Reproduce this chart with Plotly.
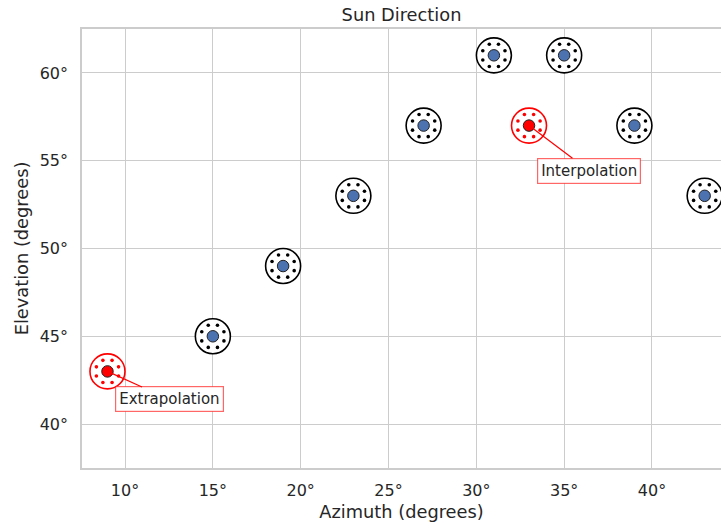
import numpy as np
import plotly.graph_objects as go

# data
azimuth = [9, 15, 19, 23, 27, 31, 33, 35, 39, 43]
elevation = [43, 45, 49, 53, 57, 61, 57, 61, 57, 53]
kind = ["extrapolation", "measured", "measured", "measured", "measured",
        "measured", "interpolation", "measured", "measured", "measured"]
x_ticks = [10, 15, 20, 25, 30, 35, 40]
y_ticks = [40, 45, 50, 55, 60]
x_range = [7.55, 43.93]
y_range = [37.5, 62.5]

W, H = 721, 526
ml, mr, mt, mb = 82, 0, 29, 58
px_per_x = (W - ml - mr) / (x_range[1] - x_range[0])
px_per_y = (H - mt - mb) / (y_range[1] - y_range[0])

TXT = "#262626"
GRID = "#cccccc"
BLUE = "#4C72B0"
RED = "#ff0000"
FONT = "DejaVu Sans"

fig = go.Figure()

def color_for(k):
    return RED if k != "measured" else "black"

# outer circles
fig.add_trace(go.Scatter(
    x=azimuth, y=elevation, mode="markers", hoverinfo="skip",
    marker=dict(size=35, color="white",
                line=dict(width=1.6, color=[color_for(k) for k in kind])),
    showlegend=False))

# ring of dots (hatch-like)
ring_r = 12.0
angles = np.deg2rad(np.arange(0, 360, 45) + 22.5)
dx, dy, dc = [], [], []
for xa, ya, k in zip(azimuth, elevation, kind):
    for a in angles:
        dx.append(xa + ring_r * np.cos(a) / px_per_x)
        dy.append(ya + ring_r * np.sin(a) / px_per_y)
        dc.append(color_for(k))
fig.add_trace(go.Scatter(
    x=dx, y=dy, mode="markers", hoverinfo="skip",
    marker=dict(size=3.6, color=dc, line=dict(width=0)),
    showlegend=False))

# centre dots
fig.add_trace(go.Scatter(
    x=azimuth, y=elevation, mode="markers",
    marker=dict(size=11.5, color=[BLUE if k == "measured" else RED for k in kind],
                line=dict(width=1, color="#222222")),
    showlegend=False))

ann_font = dict(family=FONT, size=15, color=TXT)
for xa, ya, k, (ax, ay) in [(9, 43, "Extrapolation", (62, 28)),
                             (33, 57, "Interpolation", (60, 45))]:
    fig.add_annotation(
        x=xa, y=ya, text=k, showarrow=True, arrowhead=0, arrowwidth=1.2,
        arrowcolor=RED, ax=ax, ay=ay, font=ann_font,
        bgcolor="white", bordercolor="rgba(255,0,0,0.6)", borderwidth=1.2,
        borderpad=3)

axis_common = dict(
    showgrid=True, gridcolor=GRID, gridwidth=1.2,
    showline=True, linecolor=GRID, linewidth=1.5, mirror=True,
    zeroline=False, ticks="", automargin=False,
    tickfont=dict(family=FONT, size=16, color=TXT),
)

fig.update_layout(
    width=W, height=H,
    margin=dict(l=ml, r=mr, t=mt, b=mb, autoexpand=False),
    paper_bgcolor="white", plot_bgcolor="white",
    title=dict(text="Sun Direction", x=(ml + (W - ml - mr) / 2) / W, xanchor="center",
               y=1 - 15 / H, yanchor="middle",
               font=dict(family=FONT, size=17.8, color=TXT)),
    xaxis=dict(range=x_range, tickvals=x_ticks,
               ticktext=[f"{v}°" for v in x_ticks],
               title=dict(text="Azimuth (degrees)", standoff=7,
                          font=dict(family=FONT, size=17.8, color=TXT)),
               ticklabelstandoff=7, **axis_common),
    yaxis=dict(range=y_range, tickvals=y_ticks,
               ticktext=[f"{v}°" for v in y_ticks],
               title=dict(text="Elevation (degrees)", standoff=6,
                          font=dict(family=FONT, size=17.8, color=TXT)),
               ticklabelstandoff=9, **axis_common),
)

fig.write_html("out.html", config={"displayModeBar": False},
               post_script="document.body.style.margin='0px';")
